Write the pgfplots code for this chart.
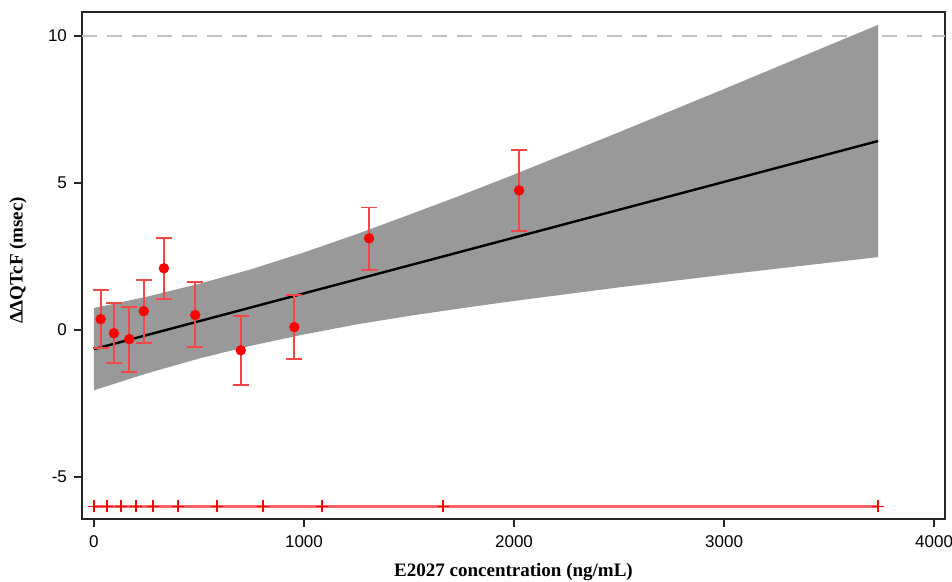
\documentclass[border=0pt]{standalone}
\usepackage{pgfplots}
\pgfplotsset{compat=1.18}
\usepackage{pgfplotstable}
\usepackage{fontspec}
\setmainfont{Liberation Serif}
\newfontfamily\tickfont{Liberation Sans}
\definecolor{bandgray}{RGB}{153,153,153}
\definecolor{refgray}{RGB}{195,195,195}
\definecolor{barred}{RGB}{245,70,70}
\definecolor{linered}{RGB}{255,100,100}

\pgfplotstableread{
x y ep em
32 0.37 0.98 0.97
95 -0.11 1.02 1.02
168 -0.31 1.10 1.12
237 0.64 1.06 1.07
333 2.10 1.02 1.05
482 0.51 1.11 1.09
699 -0.69 1.18 1.19
954 0.10 1.09 1.08
1310 3.12 1.05 1.07
2024 4.75 1.37 1.37
}\pointdata

\pgfplotstableread{
x y
0 -6
62 -6
129 -6
200 -6
281 -6
400 -6
586 -6
805 -6
1086 -6
1662 -6
3733 -6
}\rugdata

\begin{document}
\begin{tikzpicture}
\begin{axis}[
  scale only axis,
  width=431.5pt, height=253.5pt,
  xmin=-57, xmax=4052,
  ymin=-6.43, ymax=10.82,
  xtick={0,1000,2000,3000,4000},
  ytick={-5,0,5,10},
  tick align=outside,
  major tick length=4pt,
  xtick pos=bottom, ytick pos=left,
  axis line style={line width=1pt, black!85},
  tick style={line width=0.8pt, black!85},
  /pgf/number format/assume math mode=true,
  /pgf/number format/1000 sep={},
  tick label style={font=\tickfont\fontsize{8.5}{10}\selectfont},
  xticklabel style={yshift=-1pt},
  label style={font=\bfseries\fontsize{9.5}{11}\selectfont},
  xlabel={E2027 concentration (ng/mL)},
  ylabel={ΔΔQTcF (msec)},
  xlabel style={at={(axis description cs:0.5,0)}, anchor=center, yshift=-26.5pt},
  ylabel style={at={(axis description cs:-0.074,0.51)}, anchor=center},
  clip=true,
]
% reference line at 10
\addplot[refgray, line width=1pt, dash pattern=on 7.5pt off 5pt] coordinates {(-57,10) (4052,10)};
% confidence band
\addplot[fill=bandgray, draw=none] coordinates {
  (0,0.75) (250,1.13) (500,1.57) (750,2.07) (1000,2.64) (1250,3.26) (1500,3.92) (1750,4.59) (2000,5.29) (2500,6.73) (3000,8.20) (3500,9.69) (3733,10.38)
  (3733,2.48) (3500,2.29) (3000,1.88) (2500,1.45) (2000,0.99) (1750,0.74) (1500,0.48) (1250,0.19) (1000,-0.15) (750,-0.53) (500,-0.97) (250,-1.48) (0,-2.05)
} -- cycle;
% regression line
\addplot[black, line width=1.2pt] coordinates {(0,-0.65) (3733,6.43)};
% observed points with error bars
\addplot[only marks, mark=*, mark size=2.4pt, color=red,
  mark options={fill=red, draw=red},
  error bars/.cd, y dir=both, y explicit,
  error bar style={barred, line width=0.9pt},
  error mark options={barred, line width=0.9pt, mark size=4pt, rotate=90}]
  table[x=x, y=y, y error plus=ep, y error minus=em] {\pointdata};
% rug line
\addplot[linered, line width=1.3pt, mark=+, mark size=3pt,
  mark options={red, line width=0.8pt}] table[x=x, y=y] {\rugdata};
\end{axis}
\pgfresetboundingbox
\path[use as bounding box] ([shift={(-41pt,-31.5pt)}]current axis.south west) rectangle ([shift={(3.5pt,6pt)}]current axis.north east);
\end{tikzpicture}
\end{document}
